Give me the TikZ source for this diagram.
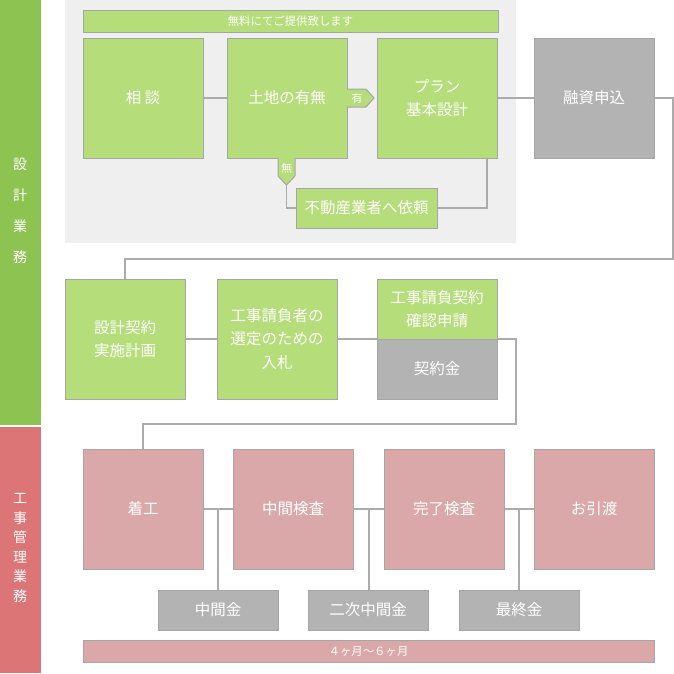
\documentclass[tikz,border=0pt]{standalone}
\usepackage{fontspec}
\newfontfamily\cjk{Noto Sans CJK JP}
\usetikzlibrary{positioning}
\definecolor{panelc}{HTML}{EFEFEF}
\definecolor{greenbox}{HTML}{B5DD7A}
\definecolor{graybox}{HTML}{B3B3B3}
\definecolor{pinkbox}{HTML}{DBA8A9}
\definecolor{edgec}{HTML}{A6A6A6}
\definecolor{lineC}{HTML}{ABABAB}
\definecolor{sidegreen}{HTML}{8DC451}
\definecolor{sidered}{HTML}{DC7575}
\pgfdeclarelayer{panel}
\pgfdeclarelayer{lines}
\pgfsetlayers{panel,lines,main}
\tikzset{
  box/.style={draw=edgec, line width=1pt, inner sep=0pt, outer sep=0pt, anchor=north west,
    text=white, align=center, font=\cjk\fontsize{15.5}{23.5}\selectfont},
  gbox/.style={box, fill=greenbox},
  graybx/.style={box, fill=graybox},
  pbox/.style={box, fill=pinkbox},
  big/.style={minimum width=120pt, minimum height=120pt},
  conn/.style={draw=lineC, line width=1.1pt},
  sidetxt/.style={text=white, align=center, inner sep=0pt},
  small/.style={font=\cjk\fontsize{11.4}{13}\selectfont}
}
\begin{document}
\begin{tikzpicture}[x=1pt,y=-1pt]
\useasboundingbox (0,0) rectangle (674,673);
% side bars
\fill[sidegreen] (0,0) rectangle (41,425);
\fill[sidered] (0,427) rectangle (41,673);
\node[sidetxt, font=\cjk\fontsize{14}{31}\selectfont] (sideA) at (20,211) {設\\計\\業\\務};
\node[sidetxt, font=\cjk\fontsize{14}{19.5}\selectfont] (sideB) at (20,548) {工\\事\\管\\理\\業\\務};
\begin{pgfonlayer}{panel}
\fill[panelc] (65,0) rectangle (516,243);
\end{pgfonlayer}
% banner
\node[gbox, minimum width=415pt, minimum height=22pt, small] (free) at (83,10) {無料にてご提供致します};
% row 1
\node[gbox, big] (soudan) at (83,38) {相 談};
\node[gbox, big] (tochi) at (227,38) {土地の有無};
\node[gbox, big] (plan) at (377,38) {プラン\\基本設計};
\node[graybx, big] (yushi) at (534,38) {融資申込};
\node[gbox, minimum width=141pt, minimum height=40pt] (fudo) at (296,188) {不動産業者へ依頼};
% tags
\draw[fill=greenbox, draw=edgec, line width=1pt] (347,89) -- (366,89) -- (374,98) -- (366,107) -- (347,107);
\node[text=white, font=\cjk\fontsize{11}{12}\selectfont, inner sep=0pt] (ari) at (357,98) {有};
\draw[fill=greenbox, draw=edgec, line width=1pt] (278,158) -- (278,176) -- (286.5,185) -- (295,176) -- (295,158);
\node[text=white, font=\cjk\fontsize{11}{12}\selectfont, inner sep=0pt] (nashi) at (286.5,168) {無};
\coordinate (nashitip) at (286.5,185);
% row 2
\node[gbox, big] (sekkei) at (65,279) {設計契約\\実施計画};
\node[gbox, big] (nyusatsu) at (217,279) {工事請負者の\\選定のための\\入札};
\node[gbox, minimum width=120pt, minimum height=60pt] (kakunin) at (377,279) {工事請負契約\\確認申請};
\node[graybx, minimum width=120pt, minimum height=60pt] (keiyaku) at (377,339) {契約金};
% row 3
\node[pbox, big] (chako) at (83,449) {着工};
\node[pbox, big] (chukan) at (233,449) {中間検査};
\node[pbox, big] (kanryo) at (384,449) {完了検査};
\node[pbox, big] (hikiwatashi) at (534,449) {お引渡};
\node[graybx, minimum width=120pt, minimum height=40pt] (kin1) at (158,590) {中間金};
\node[graybx, minimum width=120pt, minimum height=40pt] (kin2) at (308,590) {二次中間金};
\node[graybx, minimum width=120pt, minimum height=40pt] (kin3) at (459,590) {最終金};
\node[pbox, minimum width=571pt, minimum height=22pt, small] (period) at (83,640) {４ヶ月～６ヶ月};
% connectors
\begin{pgfonlayer}{lines}
\draw[conn] (soudan.east) -- (tochi.west);
\draw[conn] (plan.east) -- (yushi.west);
\draw[conn] (nashitip) |- (fudo.west);
\draw[conn] (fudo.east) -| ([xshift=-10pt]plan.south east);
\draw[conn] (yushi.east) -- (673,98) -- (673,259) -| (sekkei.north);
\draw[conn] (sekkei.east) -- (nyusatsu.west);
\draw[conn] (nyusatsu.east) -- (516,339) -- (516,424) -| (chako.north);
\draw[conn] (chako.east) -- (chukan.west);
\draw[conn] (chukan.east) -- (kanryo.west);
\draw[conn] (kanryo.east) -- (hikiwatashi.west);
\draw[conn] (218,509) -- (kin1.north -| 218,0);
\draw[conn] (369,509) -- (kin2.north -| 369,0);
\draw[conn] (519,509) -- (kin3.north -| 519,0);
\end{pgfonlayer}
\end{tikzpicture}
\end{document}
